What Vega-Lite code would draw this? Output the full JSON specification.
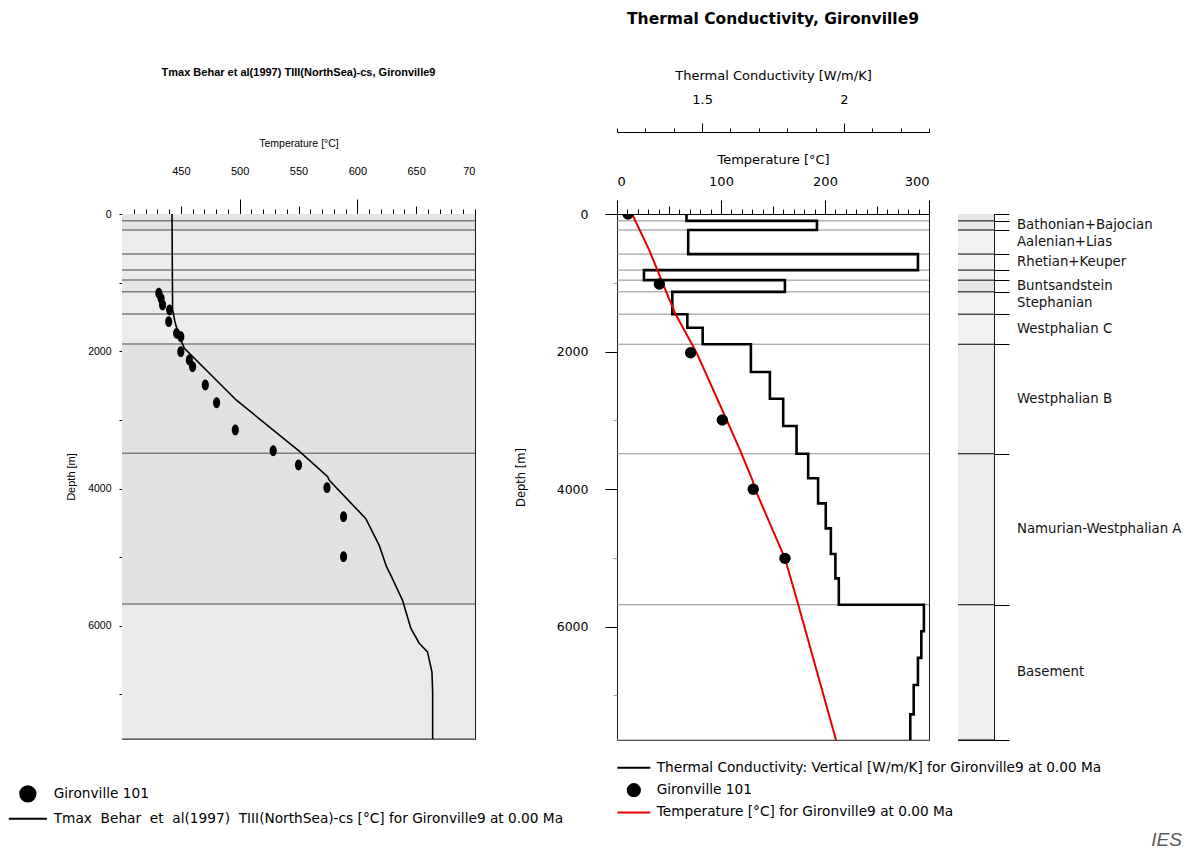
{
  "$schema": "https://vega.github.io/schema/vega-lite/v6.json",
  "background": "white",
  "padding": {"left": 20, "top": 11, "right": 2, "bottom": 2},
  "title": {"text": "IES", "orient": "bottom", "anchor": "end", "frame": "bounds", "offset": 4, "font": "Liberation Sans", "fontSize": 19, "fontStyle": "italic", "fontWeight": "normal", "color": "#5a5a5a"},
  "config": {
    "view": {"stroke": "#1a1a1a"},
    "axis": {"grid": false, "domainColor": "#000", "tickColor": "#000", "labelColor": "#000", "titleColor": "#000", "labelOverlap": false},
    "title": {"color": "#000"}
  },
  "spacing": 29,
  "bounds": "flush",
  "resolve": {"scale": {"color": "independent", "fill": "independent"}, "legend": {"color": "independent", "fill": "independent"}},
  "datasets": {
    "layers": [
      {"top": 0, "base": 100, "name": "", "lith": "limestone"},
      {"top": 100, "base": 233, "name": "Bathonian+Bajocian", "lith": "limestone"},
      {"top": 233, "base": 583, "name": "Aalenian+Lias", "lith": "marl"},
      {"top": 583, "base": 816, "name": "Rhetian+Keuper", "lith": "marl"},
      {"top": 816, "base": 962, "name": "", "lith": "marl"},
      {"top": 962, "base": 1132, "name": "Buntsandstein", "lith": "sandstone"},
      {"top": 1132, "base": 1457, "name": "Stephanian", "lith": "marl"},
      {"top": 1457, "base": 1894, "name": "Westphalian C", "lith": "marl"},
      {"top": 1894, "base": 3487, "name": "Westphalian B", "lith": "coal shale"},
      {"top": 3487, "base": 5683, "name": "Namurian-Westphalian A", "lith": "coal shale"},
      {"top": 5683, "base": 7650, "name": "Basement", "lith": "basement"}
    ],
    "tmax": [
      {"depth": 0, "T": 442.5}, {"depth": 1399, "T": 443}, {"depth": 1593, "T": 445.3},
      {"depth": 1788, "T": 448.8}, {"depth": 1957, "T": 453}, {"depth": 2710, "T": 497},
      {"depth": 3454, "T": 550.6}, {"depth": 3828, "T": 574.8}, {"depth": 3876, "T": 576},
      {"depth": 4440, "T": 607.2}, {"depth": 4828, "T": 618.6}, {"depth": 5139, "T": 624.8},
      {"depth": 5265, "T": 628.5}, {"depth": 5628, "T": 638.4}, {"depth": 6040, "T": 645.5},
      {"depth": 6255, "T": 652.6}, {"depth": 6380, "T": 659.6}, {"depth": 6670, "T": 663.4},
      {"depth": 6958, "T": 664}, {"depth": 7650, "T": 664}
    ],
    "tmax_obs": [
      {"depth": 1155, "T": 431.3}, {"depth": 1229, "T": 433.2}, {"depth": 1326, "T": 434.5},
      {"depth": 1399, "T": 440.5}, {"depth": 1569, "T": 439.7}, {"depth": 1739, "T": 446.4},
      {"depth": 1788, "T": 450}, {"depth": 2006, "T": 450}, {"depth": 2128, "T": 457.2},
      {"depth": 2225, "T": 460}, {"depth": 2492, "T": 470.8}, {"depth": 2750, "T": 480.4},
      {"depth": 3147, "T": 496.3}, {"depth": 3449, "T": 528.5}, {"depth": 3657, "T": 550},
      {"depth": 3988, "T": 574.2}, {"depth": 4410, "T": 588.3}, {"depth": 4993, "T": 588.3}
    ],
    "tc": [
      {"depth": 0, "tc": 1.445}, {"depth": 100, "tc": 1.905}, {"depth": 233, "tc": 1.451},
      {"depth": 583, "tc": 2.261}, {"depth": 816, "tc": 1.295}, {"depth": 962, "tc": 1.792},
      {"depth": 1132, "tc": 1.395}, {"depth": 1457, "tc": 1.448}, {"depth": 1654, "tc": 1.502},
      {"depth": 1894, "tc": 1.672}, {"depth": 2298, "tc": 1.739}, {"depth": 2686, "tc": 1.786},
      {"depth": 3084, "tc": 1.833}, {"depth": 3487, "tc": 1.874}, {"depth": 3844, "tc": 1.909},
      {"depth": 4208, "tc": 1.936}, {"depth": 4572, "tc": 1.954}, {"depth": 4945, "tc": 1.97},
      {"depth": 5299, "tc": 1.982}, {"depth": 5683, "tc": 2.282}, {"depth": 6068, "tc": 2.273},
      {"depth": 6455, "tc": 2.261}, {"depth": 6851, "tc": 2.246}, {"depth": 7277, "tc": 2.234},
      {"depth": 7650, "tc": 2.234}
    ],
    "temp": [
      {"depth": 0, "T": 14.5}, {"depth": 524, "T": 31}, {"depth": 1009, "T": 44},
      {"depth": 1447, "T": 56}, {"depth": 2017, "T": 76.5}, {"depth": 2996, "T": 105.5},
      {"depth": 3433, "T": 118.3}, {"depth": 3876, "T": 130.4}, {"depth": 4011, "T": 133},
      {"depth": 5008, "T": 161.5}, {"depth": 5683, "T": 174.3}, {"depth": 7650, "T": 210.6}
    ],
    "obs": [
      {"depth": 0, "T": 10.6}, {"depth": 1018, "T": 40.7}, {"depth": 2017, "T": 70.8},
      {"depth": 2996, "T": 101.3}, {"depth": 4004, "T": 131}, {"depth": 5008, "T": 161.5}
    ]
  },
  "hconcat": [
    {
      "width": 353,
      "height": 525,
      "title": {"text": "Tmax Behar et al(1997) TIII(NorthSea)-cs, Gironville9", "font": "Liberation Sans", "fontSize": 11, "fontWeight": "bold", "offset": 60},
      "resolve": {"axis": {"x": "independent"}},
      "layer": [
        {
          "data": {"name": "layers"},
          "mark": {"type": "rect"},
          "encoding": {
            "y": {"field": "top", "type": "quantitative", "scale": {"domain": [0, 7650], "reverse": true, "nice": false, "zero": false},
              "axis": {"values": [0, 1000, 2000, 3000, 4000, 5000, 6000, 7000], "labelExpr": "datum.value % 2000 === 0 ? datum.label : ''", "format": "d", "tickSize": 3, "labelPadding": 8, "labelFont": "Liberation Sans", "labelFontSize": 10.5, "labelOverlap": false, "domain": false, "title": "Depth [m]", "titleFont": "Liberation Sans", "titleFontSize": 11, "titleFontWeight": "normal", "titlePadding": 11}},
            "y2": {"field": "base"},
            "fill": {"field": "lith", "type": "nominal", "scale": {"domain": ["limestone", "marl", "sandstone", "coal shale", "basement"], "range": ["#e4e4e4", "#ececec", "#e6e6e6", "#e2e2e2", "#eaeaea"]}, "legend": null}
          }
        },
        {
          "data": {"name": "layers"},
          "mark": {"type": "rule", "color": "#7d7d7d", "strokeWidth": 1.5},
          "encoding": {"y": {"field": "base", "type": "quantitative"}}
        },
        {
          "data": {"name": "tmax"},
          "mark": {"type": "line", "strokeWidth": 1.6, "clip": true},
          "encoding": {
            "x": {"field": "T", "type": "quantitative", "scale": {"domain": [400, 700], "nice": false, "zero": false},
              "axis": {"orient": "top", "values": [450, 500, 550, 600, 650, 700],
                "labelExpr": "datum.value === 700 ? '70' : datum.label",
                "labelFlush": true,
                "labelOverlap": false,
                "tickSize": {"condition": [{"test": "datum.value === 500 || datum.value === 600", "value": 15}, {"test": "datum.value === 700", "value": 5}], "value": 8},
                "labelPadding": {"condition": [{"test": "datum.value === 500 || datum.value === 600", "value": 23}, {"test": "datum.value === 700", "value": 33}], "value": 30},
                "labelFont": "Liberation Sans", "labelFontSize": 11,
                "title": "Temperature [°C]", "titleFont": "Liberation Sans", "titleFontSize": 10.5, "titleFontWeight": "normal", "titlePadding": 17}},
            "y": {"field": "depth", "type": "quantitative"},
            "order": {"field": "depth", "type": "quantitative"},
            "color": {"datum": "Tmax \u00a0Behar \u00a0et \u00a0al(1997) \u00a0TIII(NorthSea)-cs [°C] for Gironville9 at 0.00 Ma", "type": "nominal",
              "scale": {"domain": ["Gironville 101", "Tmax \u00a0Behar \u00a0et \u00a0al(1997) \u00a0TIII(NorthSea)-cs [°C] for Gironville9 at 0.00 Ma"], "range": ["#000000", "#000000"]},
              "legend": {"orient": "none", "legendX": -101, "legendY": 573, "title": null, "symbolSize": 300, "labelFont": "DejaVu Sans", "labelFontSize": 13.7, "labelColor": "#000", "labelOffset": 19, "rowPadding": 8, "labelLimit": 800,
                "encode": {"symbols": {"update": {
                  "shape": {"signal": "datum.value === 'Gironville 101' ? 'circle' : 'M-2.2,0H2.2'"},
                  "fill": {"value": "#000"}, "stroke": {"value": "#000"},
                  "strokeWidth": {"signal": "datum.value === 'Gironville 101' ? 0 : 2"},
                  "opacity": {"value": 1}}}}}}
          }
        },
        {
          "data": {"name": "tmax_obs"},
          "mark": {"type": "point", "filled": true, "size": 70, "opacity": 1, "shape": "M0,-1.3A0.85,1.3 0 1,1 0,1.3A0.85,1.3 0 1,1 0,-1.3Z"},
          "encoding": {
            "x": {"field": "T", "type": "quantitative",
              "axis": {"orient": "top", "values": [410, 420, 430, 440, 460, 470, 480, 490, 510, 520, 530, 540, 560, 570, 580, 590, 610, 620, 630, 640, 660, 670, 680, 690], "tickSize": 5, "labels": false, "domain": false, "title": null}},
            "y": {"field": "depth", "type": "quantitative"},
            "color": {"datum": "Gironville 101", "type": "nominal"}
          }
        }
      ]
    },
    {
      "width": 84,
      "height": 526,
      "data": {"values": [{"a": 0}]},
      "mark": {"type": "text"},
      "encoding": {"text": {"value": ""}},
      "view": {"stroke": null}
    },
    {
      "width": 312,
      "height": 526,
      "title": {"text": "Thermal Conductivity, Gironville9", "font": "DejaVu Sans", "fontSize": 15.5, "fontWeight": "bold", "offset": 42},
      "resolve": {"scale": {"x": "independent"}, "axis": {"x": "independent"}},
      "layer": [
        {
          "data": {"name": "layers"},
          "mark": {"type": "rule", "color": "#8c8c8c", "strokeWidth": 1},
          "encoding": {
            "y": {"field": "base", "type": "quantitative", "scale": {"domain": [0, 7650], "reverse": true, "nice": false, "zero": false},
              "axis": {"values": [0, 1000, 2000, 3000, 4000, 5000, 6000, 7000], "labelExpr": "datum.value % 2000 === 0 ? datum.label : ''", "format": "d",
                "tickSize": {"condition": {"test": "datum.value % 2000 === 0", "value": 12}, "value": 4},
                "tickColor": {"condition": {"test": "datum.value % 2000 === 0", "value": "#000"}, "value": "#999"},
                "labelPadding": 17, "labelFont": "DejaVu Sans", "labelFontSize": 12.5, "domain": false,
                "title": "Depth [m]", "titleFont": "DejaVu Sans", "titleFontSize": 11.5, "titleFontWeight": "normal", "titlePadding": 30}}
          }
        },
        {
          "data": {"name": "tc"},
          "mark": {"type": "line", "interpolate": "step-before", "strokeWidth": 2.6, "clip": true},
          "encoding": {
            "x": {"field": "tc", "type": "quantitative", "scale": {"domain": [1.2, 2.3], "nice": false, "zero": false},
              "axis": {"orient": "top", "offset": 82, "values": [1.2, 1.3, 1.4, 1.5, 1.6, 1.7, 1.8, 1.9, 2.0, 2.1, 2.2, 2.3], "format": ".1~f",
                "labelExpr": "abs(datum.value - 1.5) < 0.001 || abs(datum.value - 2) < 0.001 ? datum.label : ''",
                "tickSize": {"condition": {"test": "abs(datum.value - 1.5) < 0.001 || abs(datum.value - 2) < 0.001", "value": 9}, "value": 4},
                "labelPadding": 17, "labelFont": "DejaVu Sans", "labelFontSize": 13,
                "title": "Thermal Conductivity [W/m/K]", "titleFont": "DejaVu Sans", "titleFontSize": 13, "titleFontWeight": "normal", "titlePadding": 11}},
            "y": {"field": "depth", "type": "quantitative"},
            "order": {"field": "depth", "type": "quantitative"},
            "color": {"datum": "Thermal Conductivity: Vertical [W/m/K] for Gironville9 at 0.00 Ma", "type": "nominal",
              "scale": {"domain": ["Thermal Conductivity: Vertical [W/m/K] for Gironville9 at 0.00 Ma", "Gironville 101", "Temperature [°C] for Gironville9 at 0.00 Ma"], "range": ["#000000", "#000000", "#e60000"]},
              "legend": {"orient": "none", "legendX": 10, "legendY": 547, "title": null, "symbolSize": 200, "labelFont": "DejaVu Sans", "labelFontSize": 13.7, "labelColor": "#000", "labelOffset": 16, "rowPadding": 7.3, "labelLimit": 800,
                "encode": {"symbols": {"update": {
                  "shape": {"signal": "datum.value === 'Gironville 101' ? 'circle' : 'M-2.33,0H2.33'"},
                  "fill": {"signal": "indexof(datum.value, 'Temperature') === 0 ? '#e60000' : '#000'"},
                  "stroke": {"signal": "indexof(datum.value, 'Temperature') === 0 ? '#e60000' : '#000'"},
                  "strokeWidth": {"signal": "datum.value === 'Gironville 101' ? 0 : 2"},
                  "opacity": {"value": 1}}}}}}
          }
        },
        {
          "data": {"name": "temp"},
          "mark": {"type": "line", "strokeWidth": 2, "clip": true},
          "encoding": {
            "x": {"field": "T", "type": "quantitative", "scale": {"domain": [0, 300], "nice": false, "zero": false},
              "axis": {"orient": "top", "values": [0, 10, 20, 30, 40, 50, 60, 70, 80, 90, 100, 110, 120, 130, 140, 150, 160, 170, 180, 190, 200, 210, 220, 230, 240, 250, 260, 270, 280, 290, 300],
                "labelExpr": "datum.value % 100 === 0 ? datum.label : ''",
                "labelOverlap": false,
                "tickSize": {"condition": [{"test": "datum.value % 100 === 0", "value": 14}, {"test": "datum.value % 50 === 0", "value": 8}], "value": 5},
                "labelPadding": 12, "labelFont": "DejaVu Sans", "labelFontSize": 13,
                "title": "Temperature [°C]", "titleFont": "DejaVu Sans", "titleFontSize": 13, "titleFontWeight": "normal", "titlePadding": 9}},
            "y": {"field": "depth", "type": "quantitative"},
            "order": {"field": "depth", "type": "quantitative"},
            "color": {"datum": "Temperature [°C] for Gironville9 at 0.00 Ma", "type": "nominal"}
          }
        },
        {
          "data": {"name": "obs"},
          "mark": {"type": "point", "filled": true, "size": 130, "opacity": 1, "clip": true},
          "encoding": {
            "x": {"field": "T", "type": "quantitative", "scale": {"domain": [0, 300], "nice": false, "zero": false}, "axis": null},
            "y": {"field": "depth", "type": "quantitative"},
            "color": {"datum": "Gironville 101", "type": "nominal"}
          }
        }
      ]
    },
    {
      "width": 36,
      "height": 526,
      "data": {"name": "layers"},
      "layer": [
        {
          "mark": {"type": "rect"},
          "encoding": {
            "y": {"field": "top", "type": "quantitative", "scale": {"domain": [0, 7650], "reverse": true, "nice": false, "zero": false},
              "axis": {"orient": "right", "values": [0, 100, 233, 583, 816, 962, 1132, 1457, 1894, 3487, 5683, 7650], "tickSize": 15, "tickColor": "#000", "labels": false, "domain": false, "title": null}},
            "y2": {"field": "base"},
            "fill": {"field": "lith", "type": "nominal", "scale": {"domain": ["limestone", "marl", "sandstone", "coal shale", "basement"], "range": ["#e6e6e6", "#f1f1f1", "#e4e4e4", "#ececec", "#efefef"]}, "legend": null}
          }
        },
        {
          "mark": {"type": "rule", "color": "#000", "strokeWidth": 1},
          "encoding": {"y": {"field": "base", "type": "quantitative"}}
        },
        {
          "transform": [{"calculate": "(datum.top + datum.base) / 2", "as": "mid"}],
          "mark": {"type": "text", "align": "left", "baseline": "middle", "dx": 23, "font": "DejaVu Sans", "fontSize": 13.3, "color": "#111"},
          "encoding": {
            "y": {"field": "mid", "type": "quantitative"},
            "x": {"datum": 1, "type": "quantitative", "scale": {"domain": [0, 1]}, "axis": null},
            "text": {"field": "name"}
          }
        }
      ]
    }
  ]
}
